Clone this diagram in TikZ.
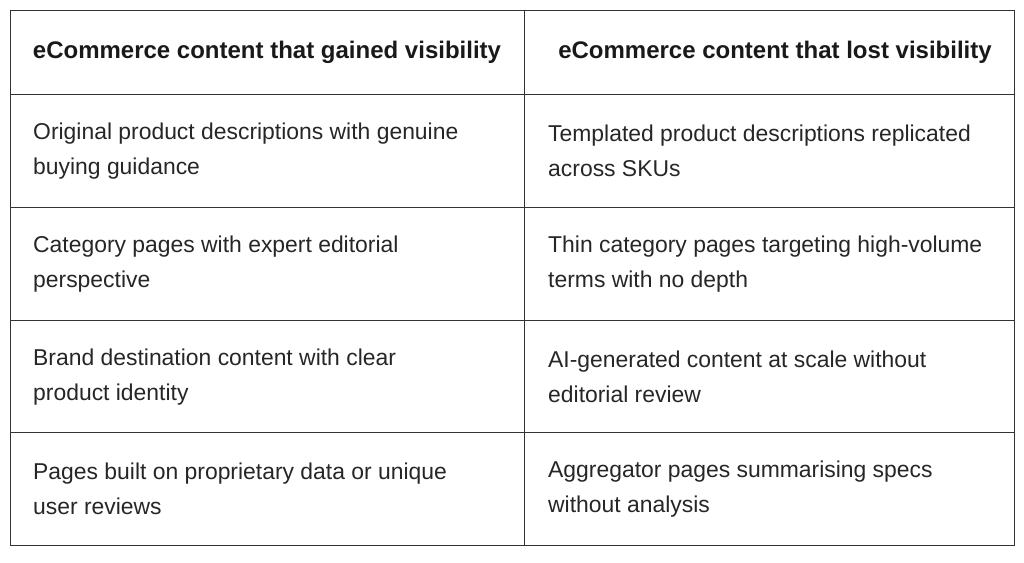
\documentclass[tikz,border=0pt]{standalone}
\usepackage{fontspec}
\setmainfont{Liberation Sans}
\begin{document}
\begin{tikzpicture}[x=1pt,y=-1pt,
  grid/.style={draw=black!80,line width=0.8pt},
  cell/.style={anchor=west,align=left,inner sep=0pt,font=\fontsize{22.9}{35}\selectfont,text=black!85},
  head/.style={anchor=center,inner sep=0pt,font=\fontsize{24}{28}\selectfont\bfseries,text=black!90}]
\useasboundingbox (0,0) rectangle (1024,562);
\draw[grid] (10,10) rectangle (1014,545);
\draw[grid] (524,10) -- (524,545);
\foreach \y in {94,207,320,432} \draw[grid] (10,\y) -- (1014,\y);
\node[head] (h1) at (267,52) {eCommerce content that gained visibility};
\node[head] (h2) at (775,52) {eCommerce content that lost visibility};
\node[cell] (a1) at (33,151) {Original product descriptions with genuine\\buying guidance};
\node[cell] (b1) at (548,151) {Templated product descriptions replicated\\across SKUs};
\node[cell] (a2) at (33,264) {Category pages with expert editorial\\perspective};
\node[cell] (b2) at (548,264) {Thin category pages targeting high-volume\\terms with no depth};
\node[cell] (a3) at (33,377) {Brand destination content with clear\\product identity};
\node[cell] (b3) at (548,377) {AI-generated content at scale without\\editorial review};
\node[cell] (a4) at (33,489) {Pages built on proprietary data or unique\\user reviews};
\node[cell] (b4) at (548,489) {Aggregator pages summarising specs\\without analysis};
\end{tikzpicture}
\end{document}
